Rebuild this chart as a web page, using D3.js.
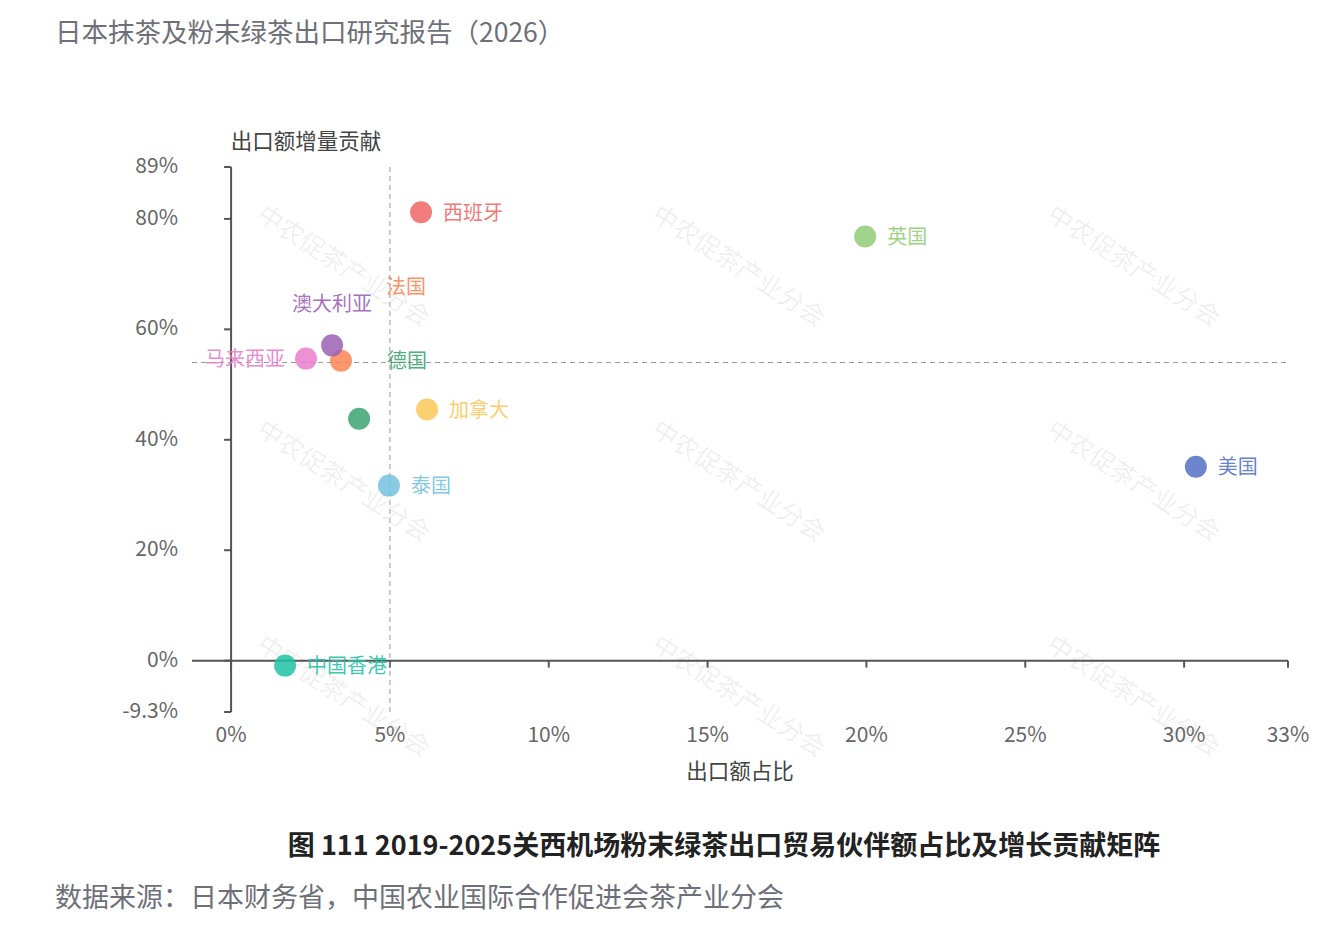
<!DOCTYPE html>
<html>
<head>
<meta charset="utf-8">
<script src="https://cdn.jsdelivr.net/npm/d3@7"></script>
<style>
  body { margin: 0; background: #fff; }
  svg { display: block; font-family: "Noto Sans CJK SC", "Noto Sans", sans-serif; }
</style>
</head>
<body>
<svg id="chart" width="1342" height="937"></svg>
<script>
//------------------------------------------------------------------------------
//Data
//------------------------------------------------------------------------------
var partners = ["美国", "英国", "加拿大", "西班牙", "泰国", "德国", "法国", "澳大利亚", "马来西亚", "中国香港"];
var shareValues = [30.37, 19.96, 6.17, 5.98, 4.97, 4.03, 3.46, 3.18, 2.36, 1.70];      // 出口额占比 %
var growthValues = [35.1, 76.8, 45.5, 81.2, 31.7, 43.8, 54.3, 57.1, 54.7, -0.9];      // 出口额增量贡献 %
var pointColors = ["#5470c6", "#91cc75", "#fac858", "#ee6666", "#73c0de", "#3ba272", "#fc8452", "#9a60b4", "#ea7ccc", "#1fc2a4"];
var xTicks = [0, 5, 10, 15, 20, 25, 30, 33.27];
var yTicks = [-9.3, 0, 20, 40, 60, 80, 89.4];
var yTickLabels = ["-9.3%", "0%", "20%", "40%", "60%", "80%", "89%"];
var avgShare = 5;
var avgGrowth = 54;

// label placement (layout only)
var labelPlace = {
  "澳大利亚": { dx: 0, dy: -42, anchor: "middle" },
  "马来西亚": { dx: -21, dy: 0, anchor: "end" },
  "法国": { dx: 45, dy: -74, anchor: "start" },
  "德国": { dx: 28, dy: -58, anchor: "start" }
};

//------------------------------------------------------------------------------
//Chart
//------------------------------------------------------------------------------
var svg = d3.select("#chart");

var x = d3.scaleLinear().domain([-1.23, 33.27]).range([192, 1288]);
var y = d3.scaleLinear().domain([-9.3, 89.4]).range([712, 167]);

var axisColor = "#555";
var labelColor = "#666";

// watermark
var wmX = [345, 740, 1135];
var wmY = [264, 479, 694];
wmY.forEach(function (wy) {
  wmX.forEach(function (wx) {
    svg.append("text")
      .attr("transform", "translate(" + wx + "," + wy + ") rotate(33)")
      .attr("text-anchor", "middle")
      .attr("dominant-baseline", "central")
      .attr("font-size", "25px")
      .attr("fill", "rgba(0,0,0,0.08)")
      .text("中农促茶产业分会");
  });
});

// title
svg.append("text")
  .attr("x", 55).attr("y", 30)
  .attr("dominant-baseline", "central")
  .attr("font-size", "26.5px")
  .attr("fill", "#6e7079")
  .text("日本抹茶及粉末绿茶出口研究报告（2026）");

// y axis
svg.append("line")
  .attr("x1", x(0)).attr("x2", x(0))
  .attr("y1", y(yTicks[yTicks.length - 1])).attr("y2", y(yTicks[0]))
  .attr("stroke", axisColor).attr("stroke-width", 2);

yTicks.forEach(function (t, i) {
  svg.append("line")
    .attr("x1", x(0) - 7).attr("x2", x(0))
    .attr("y1", y(t)).attr("y2", y(t))
    .attr("stroke", axisColor).attr("stroke-width", 2);
  svg.append("text")
    .attr("x", 178).attr("y", y(t) - 3)
    .attr("text-anchor", "end")
    .attr("dominant-baseline", "central")
    .attr("font-size", "21px")
    .attr("fill", labelColor)
    .text(yTickLabels[i]);
});

// x axis (on zero)
svg.append("line")
  .attr("x1", x.range()[0]).attr("x2", x.range()[1])
  .attr("y1", y(0)).attr("y2", y(0))
  .attr("stroke", axisColor).attr("stroke-width", 2);

xTicks.forEach(function (t) {
  svg.append("line")
    .attr("x1", x(t)).attr("x2", x(t))
    .attr("y1", y(0)).attr("y2", y(0) + 7)
    .attr("stroke", axisColor).attr("stroke-width", 2);
  svg.append("text")
    .attr("x", x(t)).attr("y", 733)
    .attr("text-anchor", "middle")
    .attr("dominant-baseline", "central")
    .attr("font-size", "21px")
    .attr("fill", labelColor)
    .text(Math.round(t) + "%");
});

// axis names
svg.append("text")
  .attr("x", 306).attr("y", 139)
  .attr("text-anchor", "middle")
  .attr("dominant-baseline", "central")
  .attr("font-size", "21.5px")
  .attr("fill", "#444")
  .text("出口额增量贡献");

svg.append("text")
  .attr("x", 740).attr("y", 769)
  .attr("text-anchor", "middle")
  .attr("dominant-baseline", "central")
  .attr("font-size", "21.5px")
  .attr("fill", "#444")
  .text("出口额占比");

// reference lines
svg.append("line")
  .attr("x1", x(avgShare)).attr("x2", x(avgShare))
  .attr("y1", y(yTicks[yTicks.length - 1])).attr("y2", y(yTicks[0]))
  .attr("stroke", "#999").attr("stroke-width", 1)
  .attr("stroke-dasharray", "5,4");

svg.append("line")
  .attr("x1", x.range()[0]).attr("x2", x.range()[1])
  .attr("y1", y(avgGrowth)).attr("y2", y(avgGrowth))
  .attr("stroke", "#999").attr("stroke-width", 1)
  .attr("stroke-dasharray", "5,4");

// points
var points = partners.map(function (name, i) {
  return { name: name, share: shareValues[i], growth: growthValues[i], color: pointColors[i] };
});

svg.append("g")
  .selectAll("circle")
  .data(points)
  .enter()
  .append("circle")
    .attr("cx", function (d) { return x(d.share); })
    .attr("cy", function (d) { return y(d.growth); })
    .attr("r", 11)
    .attr("fill", function (d) { return d.color; })
    .attr("fill-opacity", 0.85);

svg.append("g")
  .selectAll("text")
  .data(points)
  .enter()
  .append("text")
    .attr("x", function (d) {
      var p = labelPlace[d.name];
      return x(d.share) + (p ? p.dx : 22);
    })
    .attr("y", function (d) {
      var p = labelPlace[d.name];
      return y(d.growth) + (p ? p.dy : 0) - 1;
    })
    .attr("text-anchor", function (d) {
      var p = labelPlace[d.name];
      return p ? p.anchor : "start";
    })
    .attr("dominant-baseline", "central")
    .attr("font-size", "20px")
    .attr("fill", function (d) { return d.color; })
    .attr("fill-opacity", 0.9)
    .text(function (d) { return d.name; });

// caption
svg.append("text")
  .attr("x", 724).attr("y", 843)
  .attr("text-anchor", "middle")
  .attr("dominant-baseline", "central")
  .attr("font-size", "27px")
  .attr("font-weight", "bold")
  .attr("fill", "#222")
  .text("图 111 2019-2025关西机场粉末绿茶出口贸易伙伴额占比及增长贡献矩阵");

// source
svg.append("text")
  .attr("x", 55).attr("y", 895)
  .attr("dominant-baseline", "central")
  .attr("font-size", "27px")
  .attr("fill", "#6e7079")
  .text("数据来源：日本财务省，中国农业国际合作促进会茶产业分会");
</script>
</body>
</html>
